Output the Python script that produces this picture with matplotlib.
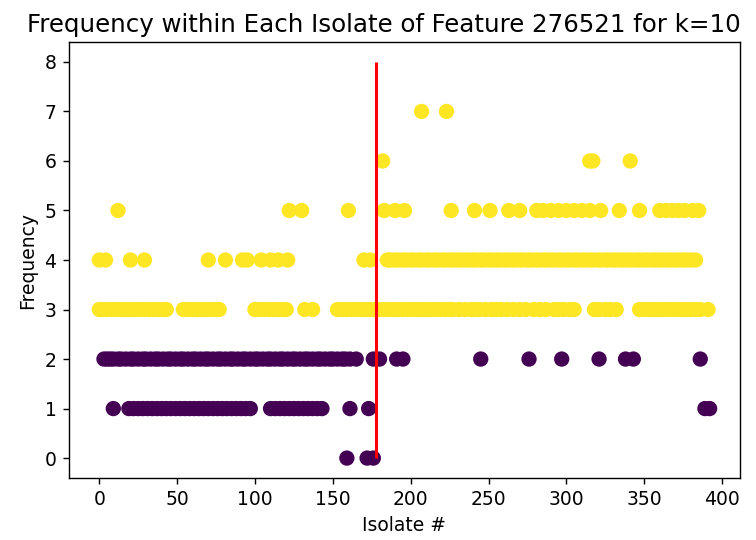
import matplotlib
matplotlib.use("Agg")
import matplotlib.pyplot as plt

# isolate numbers for each frequency value
freq0 = [159, 172, 176]
freq1 = [9, 19, 22, 25, 28, 31, 34, 37, 40, 43, 46, 49, 52, 55, 58, 61, 64, 67,
         70, 73, 76, 79, 82, 85, 88, 91, 94, 97, 110, 113, 116, 119, 122, 125,
         128, 131, 134, 137, 140, 143, 161, 173, 389, 392]
freq2 = [3, 5, 7, 9, 12, 14, 17, 20, 22, 25, 28, 30, 33, 36, 38, 41, 44, 46, 49,
         52, 54, 57, 60, 62, 65, 68, 70, 73, 76, 78, 81, 84, 86, 89, 92, 94, 97,
         100, 102, 105, 108, 110, 113, 116, 118, 121, 124, 126, 129, 132, 134,
         137, 140, 142, 145, 148, 150, 153, 156, 158, 161, 165, 176, 180, 191,
         195, 245, 276, 297, 321, 338, 343, 386]
freq3 = [0, 2, 5, 8, 11, 14, 17, 20, 23, 26, 29, 32, 35, 38, 41, 43, 54, 57, 60,
         63, 66, 69, 72, 75, 77, 100, 103, 106, 109, 112, 115, 118, 120, 132,
         137, 153, 156, 159, 162, 165, 168, 171, 174, 177, 180, 183, 186, 189,
         192, 195, 198, 201, 204, 207, 210, 213, 216, 219, 222, 225, 227, 231,
         235, 239, 241, 244, 248, 252, 255, 258, 262, 266, 270, 274, 279, 283,
         287, 292, 295, 298, 302, 305, 318, 321, 325, 328, 332, 347, 350, 353,
         356, 359, 362, 365, 368, 371, 374, 377, 380, 383, 386, 391]
freq4 = [0, 4, 20, 29, 70, 81, 92, 95, 104, 110, 115, 121, 170, 174, 185, 187,
         190, 192, 195, 197, 200, 202, 205, 207, 210, 212, 215, 217, 220, 222,
         225, 227, 230, 232, 235, 237, 240, 242, 245, 247, 250, 252, 255, 257,
         260, 262, 265, 267, 270, 272, 275, 277, 280, 282, 285, 287, 290, 292,
         295, 297, 300, 302, 305, 307, 310, 312, 315, 317, 320, 322, 325, 327,
         330, 332, 335, 337, 340, 342, 345, 347, 350, 352, 355, 357, 360, 362,
         365, 367, 370, 372, 375, 377, 380, 383]
freq5 = [12, 122, 130, 160, 183, 190, 196, 226, 241, 251, 263, 270, 281, 285,
         290, 295, 300, 305, 310, 315, 322, 334, 347, 360, 364, 368, 372, 376,
         381, 385]
freq6 = [182, 315, 317, 341]
freq7 = [207, 223]

rows = [freq0, freq1, freq2, freq3, freq4, freq5, freq6, freq7]
cluster = [0, 0, 0, 1, 1, 1, 1, 1]   # class of each frequency row

split_isolate = 178
split_top = 8

xs, ys, cs = [], [], []
for f, row in enumerate(rows):
    for iso in row:
        xs.append(iso)
        ys.append(f)
        cs.append(cluster[f])

plt.rcParams["font.size"] = 10.7
plt.figure(figsize=(6, 540 / 126), dpi=126)
plt.scatter(xs, ys, c=cs, cmap="viridis", s=60)
plt.vlines(split_isolate, 0, split_top, colors="red", linewidth=1.75)
# title sits a little left of the axes centre in the original
plt.title("Frequency within Each Isolate of Feature 276521 for k=10",
          fontsize=14.0, x=0.47)
plt.xlabel("Isolate #")
plt.ylabel("Frequency")
plt.subplots_adjust(left=0.091, right=0.979, bottom=0.115, top=0.922)
plt.savefig("out.png", dpi=126)
